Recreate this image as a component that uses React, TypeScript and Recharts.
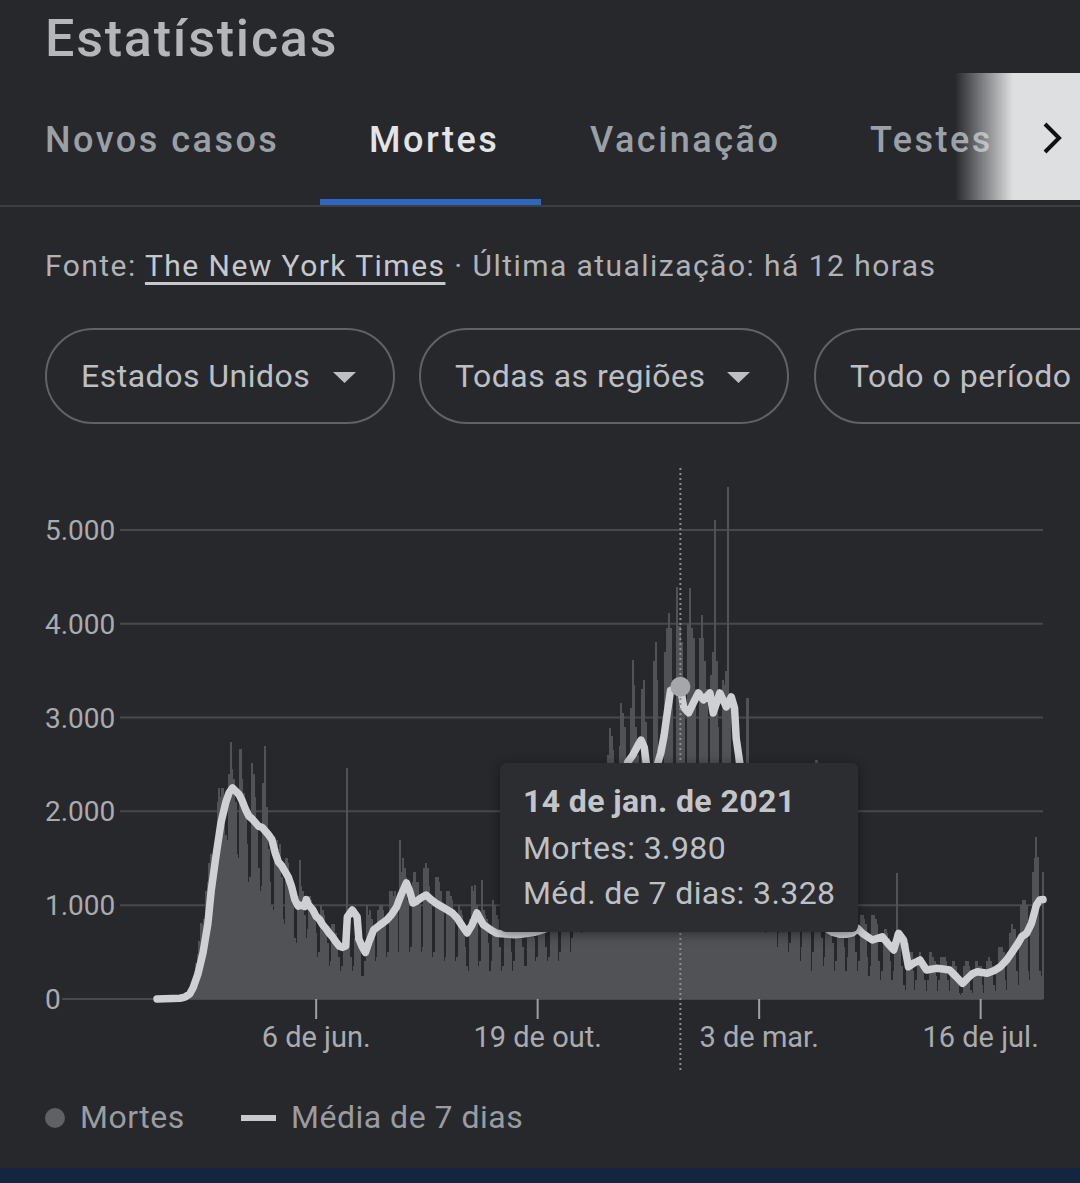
import { Bar, CartesianGrid, ComposedChart, Line, ReferenceLine, XAxis, YAxis } from "recharts";

// Daily deaths, one value per day from 1 Mar 2020 (a Sunday); each row is a week Sun..Sat
const DEATHS = [
  1, 5, 1, 4, 2, 2, 3,
  4, 5, 8, 6, 11, 10, 12,
  14, 25, 35, 50, 70, 90, 110,
  150, 200, 300, 380, 480, 620, 810,
  800, 850, 1150, 1250, 1450, 1550, 1450,
  1600, 1650, 2100, 2250, 2150, 2250, 2000,
  1750, 1700, 2400, 2740, 2450, 2350, 2100,
  1550, 1500, 2665, 2350, 2200, 2050, 1650,
  1250, 1300, 2516, 2400, 2150, 1900, 1400,
  1150, 1200, 2300, 2697, 2050, 1600, 1250,
  1000, 950, 1650, 1700, 1600, 1650, 1300,
  850, 800, 1500, 1450, 1250, 1150, 1000,
  650, 600, 1100, 1480, 1200, 1150, 900,
  650, 750, 1100, 1050, 1000, 900, 700,
  450, 500, 1000, 950, 900, 800, 600,
  350, 400, 800, 800, 700, 600, 450,
  300, 350, 700, 750, 2460, 650, 450,
  300, 350, 650, 700, 650, 550, 250,
  250, 400, 1000, 900, 950, 850, 650,
  400, 450, 950, 1000, 1000, 950, 850,
  450, 500, 1150, 1150, 1100, 1150, 1000,
  500, 1695, 1350, 1500, 1400, 1300, 1050,
  500, 550, 1250, 1350, 1250, 1250, 1000,
  500, 550, 1400, 1450, 1400, 1200, 1000,
  450, 500, 1300, 1300, 1250, 1150, 950,
  400, 450, 1150, 1150, 1100, 1050, 850,
  400, 450, 1000, 950, 900, 800, 550,
  350, 300, 850, 1200, 1150, 1215, 1000,
  350, 400, 1270, 950, 900, 850, 600,
  300, 400, 1050, 1000, 900, 850, 550,
  300, 350, 1000, 1000, 950, 850, 500,
  300, 400, 950, 950, 950, 900, 550,
  350, 350, 850, 1000, 950, 950, 650,
  400, 450, 950, 1100, 1000, 900, 550,
  400, 450, 1050, 1150, 1050, 1000, 800,
  400, 500, 1150, 1200, 1200, 1150, 1000,
  500, 650, 1450, 1450, 1250, 1300, 1200,
  700, 800, 1700, 2000, 2000, 1950, 1500,
  900, 1000, 2150, 2300, 1200, 1400, 1200,
  850, 1200, 2600, 2890, 2800, 2650, 2300,
  1100, 1400, 2700, 3155, 3050, 2900, 2400,
  1400, 1700, 3100, 3614, 3350, 2900, 2600,
  1600, 1800, 3300, 3400, 2950, 1200, 1400,
  1300, 1900, 3600, 3806, 3400, 2000, 2200,
  1450, 2100, 3700, 3950, 4115, 3950, 3400,
  1800, 1800, 4392, 3974, 3980, 3800, 3300,
  1700, 1500, 4000, 4380, 3950, 3850, 3300,
  1800, 1900, 3850, 4094, 3850, 3600, 3300,
  1800, 1850, 3450, 3700, 5107, 3600, 2900,
  1500, 1700, 3400, 3350, 3500, 5458, 3200,
  1100, 1200, 2400, 2900, 2700, 2600, 2000,
  1200, 1400, 2300, 3209, 2500, 2300, 1900,
  1100, 1300, 2100, 2400, 2200, 1900, 1550,
  700, 900, 1900, 1800, 1700, 1800, 1350,
  550, 700, 1500, 1450, 1400, 1400, 950,
  500, 600, 1250, 1300, 1200, 1150, 800,
  400, 550, 1100, 1150, 1100, 900, 750,
  300, 500, 900, 2548, 950, 950, 650,
  350, 450, 950, 950, 900, 800, 600,
  300, 400, 950, 1000, 850, 800, 550,
  300, 450, 1000, 1000, 950, 850, 500,
  300, 400, 900, 900, 850, 800, 450,
  250, 350, 900, 900, 850, 800, 400,
  200, 300, 700, 750, 700, 650, 400,
  200, 300, 700, 1340, 650, 600, 350,
  150, 100, 450, 600, 500, 500, 300,
  100, 200, 450, 500, 450, 400, 200,
  80, 200, 500, 500, 450, 400, 250,
  80, 200, 450, 450, 450, 400, 200,
  80, 250, 400, 400, 350, 200, 60,
  40, 60, 350, 400, 400, 350, 100,
  60, 250, 400, 400, 350, 350, 150,
  60, 300, 400, 450, 400, 350, 150,
  80, 350, 550, 550, 550, 500, 200,
  100, 500, 700, 800, 750, 750, 300,
  150, 650, 1000, 1050, 1050, 1000, 300,
  200, 800, 1350, 1500, 1727, 1514, 300,
  250, 1354,
];

// 7-day average: [day, value]
const AVG_POINTS: [number, number][] = [
  [0, 0], [14, 8], [17, 20], [20, 55], [22, 120], [25, 270], [28, 490], [31, 800],
  [33, 1150], [36, 1530], [39, 1880], [42, 2100], [44, 2200], [46, 2250], [48, 2215],
  [50, 2180], [52, 2110], [54, 2020], [56, 1950], [58, 1920], [60, 1880], [62, 1840],
  [64, 1830], [66, 1790], [68, 1750], [70, 1700], [72, 1560], [74, 1460], [76, 1420],
  [78, 1360], [80, 1300], [82, 1200], [84, 1060], [86, 990], [88, 1000], [90, 985],
  [91, 1060], [92, 1010], [95, 950], [97, 880], [99, 850], [101, 790], [103, 750],
  [105, 700], [107, 660], [109, 610], [111, 565], [113, 550], [115, 565], [116, 874],
  [119, 949], [122, 874], [123, 640], [125, 560], [127, 495], [129, 600], [132, 735],
  [136, 790], [140, 842], [143, 900], [146, 981], [149, 1120], [152, 1237], [154, 1150],
  [156, 1023], [158, 1040], [161, 1080], [164, 1109], [167, 1060], [170, 1020], [173, 990],
  [176, 960], [180, 917], [183, 860], [186, 780], [189, 704], [192, 790], [195, 917],
  [197, 850], [199, 790], [201, 768], [204, 730], [207, 700], [210, 695], [214, 690],
  [218, 685], [222, 690], [226, 700], [230, 710], [233, 725], [237, 750], [241, 790],
  [245, 830], [250, 900], [254, 1010], [258, 1120], [262, 1300], [266, 1500], [269, 1640],
  [271, 1600], [273, 1380], [275, 1450], [277, 1850], [279, 2150], [282, 2280], [285, 2420],
  [287, 2527], [290, 2600], [293, 2700], [295, 2760], [297, 2680], [299, 2400], [301, 2250],
  [303, 2300], [305, 2500], [307, 2620], [309, 2800], [311, 3050], [313, 3290], [315, 3300],
  [317, 3310], [319, 3328], [321, 3110], [324, 3050], [327, 3160], [330, 3262], [333, 3188],
  [337, 3262], [339, 3049], [343, 3262], [347, 3113], [350, 3220], [352, 3100], [353, 2780],
  [355, 2540], [357, 2300], [360, 2100], [363, 2000], [367, 1950], [370, 1800], [374, 1600],
  [378, 1400], [381, 1250], [385, 1100], [389, 1000], [393, 950], [396, 900], [399, 820],
  [401, 790], [402, 1030], [405, 1000], [408, 980], [409, 740], [412, 710], [416, 690],
  [420, 690], [424, 705], [427, 753], [430, 700], [436, 629], [442, 664], [446, 580],
  [449, 522], [452, 700], [455, 629], [458, 344], [461, 380], [465, 416], [469, 309],
  [475, 327], [479, 320], [483, 309], [487, 240], [491, 167], [494, 220], [497, 270],
  [500, 291], [506, 274], [510, 300], [514, 344], [518, 420], [522, 522], [525, 600],
  [527, 664], [530, 700], [533, 807], [536, 1002], [538, 1055], [540, 1060],
];

const X_TICKS = [97, 232, 367, 502];
const X_LABELS = ["6 de jun.", "19 de out.", "3 de mar.", "16 de jul."];
const Y_TICKS = [0, 1000, 2000, 3000, 4000, 5000];
const Y_MAX = 5500;

const TIP_DAY = 319;
const TIP_LABEL = "14 de jan. de 2021";

const BG = "#27282c";
const GRID = "#48494d";
const AXIS_TEXT = "#a9abaf";
const BAR = "#505256";

const avgByDay = new Map(AVG_POINTS);
const data = DEATHS.map((v, i) => ({ day: i, deaths: v, avg: avgByDay.get(i) ?? null }));

const fmt = (n: number) => String(Math.round(n)).replace(/\B(?=(\d{3})+(?!\d))/g, ".");

function Txt({ x, base, size, color, weight = 400, ls = 0, children }: any) {
  return (
    <div
      style={{
        position: "absolute",
        left: x,
        top: base - size * 0.928,
        fontSize: size,
        lineHeight: `${size * 1.172}px`,
        color,
        fontWeight: weight,
        letterSpacing: ls,
        whiteSpace: "nowrap",
      }}
    >
      {children}
    </div>
  );
}

function YTick({ y, payload }: any) {
  return (
    <g>
      <text x={45} y={y + 10} fontSize={28} fill={AXIS_TEXT}>
        {fmt(payload.value)}
      </text>
      {payload.value === 0 && <line x1={62} x2={120} y1={y} y2={y} stroke={GRID} strokeWidth={2} />}
    </g>
  );
}

// each day's bar a touch wider than its slot so neighbours join into one fill
function DayBar(p: any) {
  if (!p.height) return <g />;
  return (
    <rect
      x={p.x + p.width / 2 - 1.1}
      y={p.y}
      width={2.2}
      height={p.height}
      fill={BAR}
      shapeRendering="crispEdges"
    />
  );
}

function AvgDot(props: any) {
  const { cx, cy, payload, index } = props;
  if (!payload || payload.day !== TIP_DAY || cy == null) return <g key={`d${index}`} />;
  return <circle key="active" cx={cx} cy={cy} r={10} fill="#a5a7ab" />;
}

// grid only at the labelled ticks, not at the top of the domain
const gridRows = ({ yAxis, offset }: any) =>
  Y_TICKS.map((t) =>
    yAxis && typeof yAxis.scale === "function"
      ? yAxis.scale(t)
      : offset.top + offset.height * (1 - t / Y_MAX)
  );

function Pill({ x, w, label, caret }: any) {
  return (
    <div
      style={{
        position: "absolute",
        left: x,
        top: 328,
        width: w,
        height: 96,
        boxSizing: "border-box",
        border: "2px solid #5f6368",
        borderRadius: 48,
      }}
    >
      <Txt x={34} base={58} size={32} color="#bdbfc3" ls={0.5}>
        {label}
      </Txt>
      {caret && (
        <svg style={{ position: "absolute", left: w - 64, top: 42 }} width={24} height={12}>
          <polygon points="0,0 23,0 11.5,11" fill="#bdbfc3" />
        </svg>
      )}
    </div>
  );
}

export default function App() {
  const tipDeaths = DEATHS[TIP_DAY];
  const tipAvg = avgByDay.get(TIP_DAY) ?? 0;
  return (
    <div
      style={{
        position: "absolute",
        left: 0,
        top: 0,
        width: 1080,
        height: 1183,
        background: BG,
        overflow: "hidden",
        fontFamily: "Roboto, sans-serif",
      }}
    >
      <Txt x={45} base={57} size={52} color="#b4b6ba" weight={500} ls={1.8}>
        Estatísticas
      </Txt>

      <Txt x={45} base={152} size={36} color="#9aa0a6" weight={500} ls={2.5}>
        Novos casos
      </Txt>
      <Txt x={369} base={152} size={36} color="#e3e4e6" weight={500} ls={2.5}>
        Mortes
      </Txt>
      <Txt x={590} base={152} size={36} color="#9aa0a6" weight={500} ls={2.5}>
        Vacinação
      </Txt>
      <Txt x={870} base={152} size={36} color="#9aa0a6" weight={500} ls={2.5}>
        Testes
      </Txt>
      <div
        style={{
          position: "absolute",
          left: 955,
          top: 73,
          width: 125,
          height: 127,
          background: "linear-gradient(to right, rgba(222,223,225,0) 0px, #dedfe1 58px, #dedfe1 125px)",
        }}
      />
      <svg style={{ position: "absolute", left: 1040, top: 120 }} width={26} height={36}>
        <polyline points="5,4 19,18 5,32" fill="none" stroke="#111" strokeWidth={4} />
      </svg>
      <div style={{ position: "absolute", left: 0, top: 205, width: 1080, height: 2, background: "#3c3e42" }} />
      <div style={{ position: "absolute", left: 320, top: 199, width: 221, height: 6, background: "#2f66c0" }} />

      <Txt x={45} base={276} size={30} color="#b0b2b6" ls={1.45}>
        Fonte:{" "}
        <span style={{ color: "#c6c8cc", textDecoration: "underline", textUnderlineOffset: 6 }}>
          The New York Times
        </span>{" "}
        · Última atualização: há 12 horas
      </Txt>

      <Pill x={45} w={350} label="Estados Unidos" caret />
      <Pill x={419} w={370} label="Todas as regiões" caret />
      <Pill x={814} w={320} label="Todo o período" />

      <div style={{ position: "absolute", left: 0, top: 460 }}>
        <ComposedChart
          width={1080}
          height={620}
          data={data}
          margin={{ top: 23, right: 37, bottom: 21, left: 0 }}
          style={{ fontFamily: "Roboto, sans-serif" }}
        >
          <CartesianGrid
            horizontal
            vertical={false}
            stroke={GRID}
            strokeWidth={2}
            horizontalCoordinatesGenerator={gridRows}
          />
          <XAxis
            dataKey="day"
            type="number"
            domain={[0, 540]}
            ticks={X_TICKS}
            interval={0}
            tickFormatter={(v) => X_LABELS[X_TICKS.indexOf(v)] ?? ""}
            padding={{ left: 37, right: 0 }}
            axisLine={false}
            tickLine={{ stroke: "#9aa0a6", strokeWidth: 2 }}
            tickSize={20}
            tickMargin={7}
            height={60}
            tick={{ fill: AXIS_TEXT, fontSize: 29 }}
          />
          <YAxis
            type="number"
            domain={[0, Y_MAX]}
            ticks={Y_TICKS}
            interval={0}
            width={120}
            axisLine={false}
            tickLine={false}
            tick={<YTick />}
          />
          <Bar dataKey="deaths" fill={BAR} barSize={2} shape={<DayBar />} isAnimationActive={false} />
          <Line
            dataKey="avg"
            type="linear"
            stroke="#cfd0d4"
            strokeWidth={7.5}
            strokeLinejoin="round"
            strokeLinecap="round"
            connectNulls
            dot={AvgDot}
            activeDot={false}
            isAnimationActive={false}
          />
          <ReferenceLine
            x={TIP_DAY}
            ifOverflow="visible"
            shape={(p: any) => (
              <line
                x1={p.x1}
                x2={p.x2}
                y1={Math.min(p.y1, p.y2) - 15}
                y2={Math.max(p.y1, p.y2) + 74}
                stroke="#8d8f93"
                strokeWidth={2}
                strokeDasharray="2 3"
              />
            )}
          />
        </ComposedChart>
      </div>

      <div
        style={{
          position: "absolute",
          left: 500,
          top: 763,
          width: 358,
          height: 169,
          background: "#2c2d31",
          borderRadius: 6,
          boxShadow: "0 2px 12px rgba(0,0,0,0.45)",
        }}
      >
        <Txt x={23} base={50} size={32} color="#c3c5c9" weight={700} ls={0.4}>
          {TIP_LABEL}
        </Txt>
        <Txt x={23} base={97} size={32} color="#bdc1c6" ls={0.4}>
          Mortes: {fmt(tipDeaths)}
        </Txt>
        <Txt x={23} base={142} size={32} color="#bdc1c6" ls={0.4}>
          Méd. de 7 dias: {fmt(tipAvg)}
        </Txt>
      </div>

      <svg style={{ position: "absolute", left: 44, top: 1107 }} width={22} height={22}>
        <circle cx={11} cy={11} r={10} fill="#5f6165" />
      </svg>
      <Txt x={80} base={1129} size={32} color="#9a9ca0" ls={0.5}>
        Mortes
      </Txt>
      <div style={{ position: "absolute", left: 241, top: 1115, width: 35, height: 6, background: "#c8c9cc" }} />
      <Txt x={291} base={1129} size={32} color="#9a9ca0" ls={0.5}>
        Média de 7 dias
      </Txt>

      <div style={{ position: "absolute", left: 0, top: 1168, width: 1080, height: 15, background: "#14263f" }} />
    </div>
  );
}
